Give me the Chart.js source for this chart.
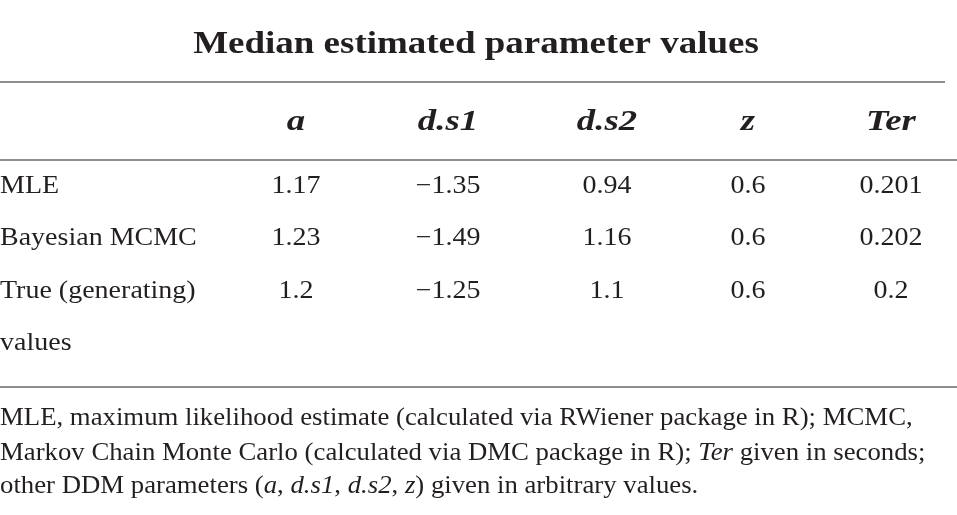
<!DOCTYPE html>
<html lang="en">
<head>
  <meta charset="UTF-8" />
  <title>Median estimated parameter values</title>
  <script src="https://cdn.jsdelivr.net/npm/chart.js"></script>
  <style>
    html, body { margin: 0; padding: 0; background: #fff; }
    #tableChart { display: block; }
  </style>
</head>
<body>
  <canvas id="tableChart" width="957" height="515"></canvas>

  <script>
    // Table content
    const titleText = 'Median estimated parameter values';
    const columns = ['a', 'd.s1', 'd.s2', 'z', 'Ter'];
    const rowLabels = ['MLE', 'Bayesian MCMC', 'True (generating)'];
    const rowLabelWrap = 'values';
    const mleValues = [1.17, -1.35, 0.94, 0.6, 0.201];
    const mcmcValues = [1.23, -1.49, 1.16, 0.6, 0.202];
    const trueValues = [1.2, -1.25, 1.1, 0.6, 0.2];
    // footnote lines, each a list of [text, italic]
    const footnoteLines = [
      [['MLE, maximum likelihood estimate (calculated via RWiener package in R); MCMC,', false]],
      [['Markov Chain Monte Carlo (calculated via DMC package in R); ', false], ['Ter', true], [' given in seconds;', false]],
      [['other DDM parameters (', false], ['a', true], [', ', false], ['d.s1', true], [', ', false],
       ['d.s2', true], [', ', false], ['z', true], [') given in arbitrary values.', false]]
    ];

    // Layout (in canvas units, mapped by the hidden linear scales)
    const colX = [296, 448, 607, 748, 891];
    const headerY = 130;
    const rowY = [193, 245, 298];
    const wrapY = 350;
    const titleY = 53;
    const footY = [425, 460, 493];
    const rules = [{ y: 82, x1: 0, x2: 945 }, { y: 160, x1: 0, x2: 957 }, { y: 387, x1: 0, x2: 957 }];

    const ink = '#231f20';
    const serif = "'Liberation Serif', Tinos, 'Times New Roman', serif";

    const fmt = v => (v < 0 ? '\u2212' : '') + String(Math.abs(v));

    // each text dataset carries its strings, font and a horizontal stretch
    function textSet(points, texts, font, align, stretch) {
      return { type: 'scatter', data: points, texts: texts, font: font, align: align, stretch: stretch,
               pointRadius: 0, showLine: false };
    }

    const datasets = [];
    rules.forEach(r => {
      datasets.push({
        type: 'line', data: [{ x: r.x1, y: r.y }, { x: r.x2, y: r.y }],
        borderColor: '#8e8e8e', borderWidth: 2, pointRadius: 0, fill: false
      });
    });
    datasets.push(textSet([{ x: 476, y: titleY }], [titleText], 'bold 32px ' + serif, 'center', 1.155));
    datasets.push(textSet(colX.map(x => ({ x: x, y: headerY })), columns, 'bold italic 29px ' + serif, 'center', 1.27));
    datasets.push(textSet(rowY.map(y => ({ x: 0, y: y })).concat([{ x: 0, y: wrapY }]),
      rowLabels.concat([rowLabelWrap]), '25px ' + serif, 'left', 1.12));
    [mleValues, mcmcValues, trueValues].forEach((vals, r) => {
      datasets.push(textSet(colX.map(x => ({ x: x, y: rowY[r] })), vals.map(fmt), '25px ' + serif, 'center', 1.12));
    });
    datasets.push(Object.assign(textSet(footY.map(y => ({ x: 0, y: y })), [], '25px ' + serif, 'left', 1.07),
      { segments: footnoteLines }));

    const cellText = {
      id: 'cellText',
      afterDatasetsDraw(chart) {
        const ctx = chart.ctx;
        chart.data.datasets.forEach((ds, i) => {
          if (!ds.texts) return;
          const meta = chart.getDatasetMeta(i);
          const sx = ds.stretch;
          ctx.save();
          ctx.fillStyle = ink;
          ctx.textBaseline = 'alphabetic';
          meta.data.forEach((pt, k) => {
            if (ds.segments) {
              // mixed roman / italic line
              let x = pt.x;
              ds.segments[k].forEach(([t, it]) => {
                ctx.font = (it ? 'italic ' : '') + ds.font;
                ctx.textAlign = 'left';
                ctx.save();
                ctx.translate(x, pt.y);
                ctx.scale(sx, 1);
                ctx.fillText(t, 0, 0);
                ctx.restore();
                x += ctx.measureText(t).width * sx;
              });
              return;
            }
            ctx.font = ds.font;
            ctx.textAlign = ds.align;
            ctx.save();
            ctx.translate(pt.x, pt.y);
            ctx.scale(sx, 1);
            ctx.fillText(ds.texts[k], 0, 0);
            ctx.restore();
          });
          ctx.restore();
        });
      }
    };

    function draw() {
      new Chart(document.getElementById('tableChart').getContext('2d'), {
        data: { datasets: datasets },
        options: {
          responsive: false,
          animation: false,
          layout: { padding: 0 },
          plugins: { legend: { display: false }, tooltip: { enabled: false }, title: { display: false } },
          scales: {
            x: { type: 'linear', min: 0, max: 957, display: false },
            y: { type: 'linear', min: 0, max: 515, reverse: true, display: false }
          }
        },
        plugins: [cellText]
      });
    }

    // make sure the serif faces are ready before painting
    Promise.all([
      document.fonts.load("25px 'Liberation Serif'"),
      document.fonts.load("italic 25px 'Liberation Serif'"),
      document.fonts.load("bold 32px 'Liberation Serif'"),
      document.fonts.load("bold italic 29px 'Liberation Serif'")
    ]).then(draw, draw);
  </script>
</body>
</html>
